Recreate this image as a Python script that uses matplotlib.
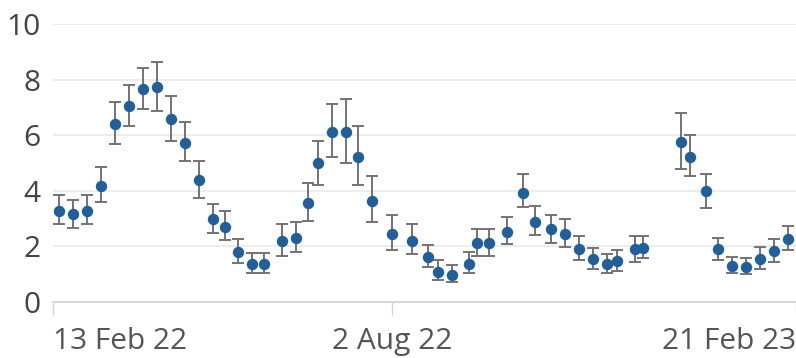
import matplotlib
matplotlib.use("Agg")
import matplotlib.pyplot as plt
import matplotlib.dates as mdates
import numpy as np
import pandas as pd

# weekly estimates with confidence intervals
dates = ["2022-02-16", "2022-02-23", "2022-03-02", "2022-03-09", "2022-03-16",
         "2022-03-23", "2022-03-30", "2022-04-06", "2022-04-13", "2022-04-20",
         "2022-04-27", "2022-05-04", "2022-05-10", "2022-05-17", "2022-05-24",
         "2022-05-30", "2022-06-08", "2022-06-15", "2022-06-21", "2022-06-26",
         "2022-07-03", "2022-07-10", "2022-07-16", "2022-07-23", "2022-08-02",
         "2022-08-12", "2022-08-20", "2022-08-25", "2022-09-01", "2022-09-10",
         "2022-09-14", "2022-09-20", "2022-09-29", "2022-10-07", "2022-10-13",
         "2022-10-21", "2022-10-28", "2022-11-04", "2022-11-11", "2022-11-18",
         "2022-11-23", "2022-12-02", "2022-12-06", "2022-12-25", "2022-12-30",
         "2023-01-07", "2023-01-13", "2023-01-20", "2023-01-27", "2023-02-03",
         "2023-02-10", "2023-02-17"]
values = [3.28, 3.17, 3.28, 4.18, 6.41, 7.05, 7.67, 7.72, 6.60, 5.73,
          4.39, 2.97, 2.71, 1.79, 1.37, 1.37, 2.18, 2.31, 3.55, 5.00,
          6.12, 6.10, 5.22, 3.64, 2.45, 2.20, 1.61, 1.08, 0.98, 1.36,
          2.11, 2.13, 2.53, 3.93, 2.89, 2.61, 2.45, 1.91, 1.55, 1.36,
          1.49, 1.90, 1.94, 5.77, 5.23, 4.00, 1.91, 1.31, 1.25, 1.56,
          1.85, 2.27]
lower = [2.79, 2.65, 2.79, 3.60, 5.68, 6.33, 6.95, 6.87, 5.80, 5.06,
         3.73, 2.47, 2.22, 1.39, 1.05, 1.05, 1.64, 1.79, 2.92, 4.20,
         5.20, 5.00, 4.20, 2.87, 1.86, 1.71, 1.27, 0.79, 0.71, 1.04,
         1.65, 1.65, 2.09, 3.40, 2.40, 2.13, 1.99, 1.52, 1.20, 1.05,
         1.13, 1.45, 1.59, 4.78, 4.53, 3.39, 1.52, 1.05, 1.00, 1.20,
         1.45, 1.87]
upper = [3.85, 3.66, 3.85, 4.87, 7.20, 7.79, 8.40, 8.62, 7.40, 6.46,
         5.06, 3.54, 3.26, 2.26, 1.77, 1.77, 2.79, 2.89, 4.27, 5.80,
         7.13, 7.29, 6.33, 4.53, 3.12, 2.79, 2.05, 1.52, 1.32, 1.79,
         2.64, 2.64, 3.04, 4.60, 3.45, 3.12, 2.99, 2.39, 1.93, 1.73,
         1.87, 2.39, 2.39, 6.79, 5.99, 4.60, 2.31, 1.63, 1.57, 1.99,
         2.26, 2.73]

tick_dates = ["2022-02-13", "2022-08-02", "2023-02-21"]
tick_labels = ["13 Feb 22", "2 Aug 22", "21 Feb 23"]
y_ticks = [0, 2, 4, 6, 8, 10]

x = pd.to_datetime(dates)
v = np.array(values)
yerr = np.array([v - np.array(lower), np.array(upper) - v])

plt.rcParams['font.family'] = ['Open Sans', 'DejaVu Sans']

fig = plt.figure(figsize=(7.96, 3.58), dpi=100)
ax = fig.add_axes([53.3 / 796, 1 - 302 / 358, 1 - 53.3 / 796, (302 - 24) / 358])

ax.errorbar(x, v, yerr=yerr, fmt='o', color='#215f9a', markersize=7.2,
            ecolor='#737373', elinewidth=1.4, capsize=4.3, capthick=1.4,
            zorder=3, clip_on=False)

ax.set_xlim(pd.Timestamp("2022-02-13"), pd.Timestamp("2023-02-21"))
ax.set_ylim(0, 10)
ax.set_yticks(y_ticks)
ax.set_xticks(pd.to_datetime(tick_dates))
ax.set_xticklabels(tick_labels)
labs = ax.get_xticklabels()
labs[0].set_ha('left')
labs[-1].set_ha('right')

for s in ['top', 'right', 'left']:
    ax.spines[s].set_visible(False)
ax.spines['bottom'].set_color('#d4d4d4')
ax.spines['bottom'].set_linewidth(1.3)

ax.grid(axis='y', color='#ececec', linewidth=1.3)
ax.set_axisbelow(True)
ax.tick_params(axis='y', length=0, pad=9, labelsize=21.5, labelcolor='#444444')
ax.tick_params(axis='x', length=9, width=1, color='#d4d4d4', pad=9,
               labelsize=21.5, labelcolor='#555555')

fig.savefig("out.png", dpi=100)
